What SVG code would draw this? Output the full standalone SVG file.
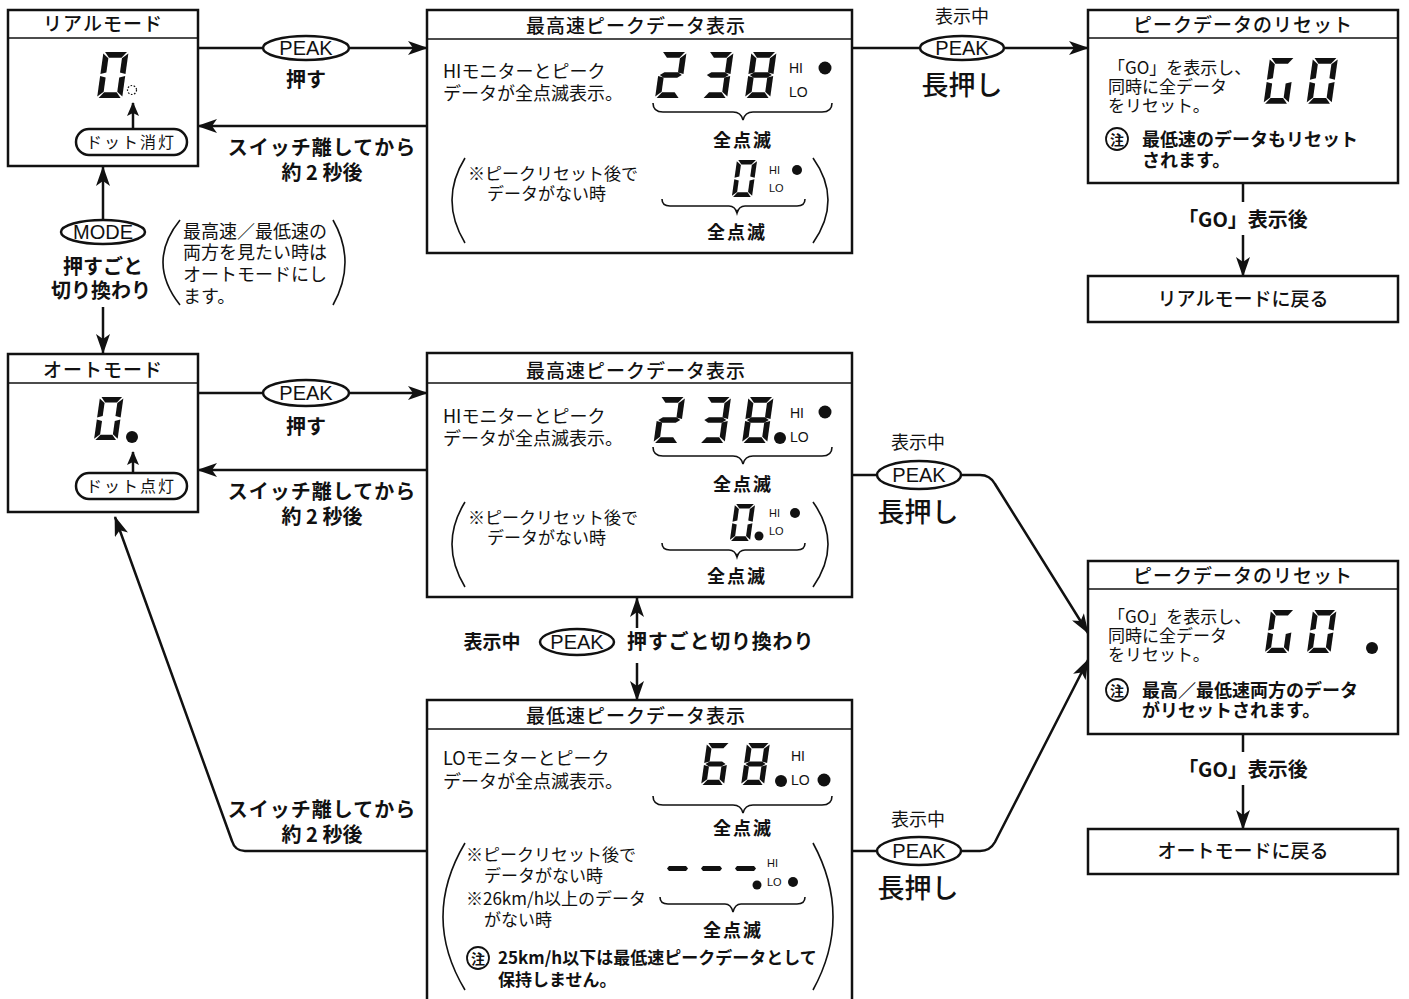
<svg xmlns="http://www.w3.org/2000/svg" xmlns:xlink="http://www.w3.org/1999/xlink" width="1409" height="999" viewBox="0 0 1409 999">
<style>
text{font-family:"Noto Sans CJK JP","Liberation Sans",sans-serif;fill:#111}
.t{font-size:19px;font-weight:500;text-anchor:middle;letter-spacing:1px}
.b{font-size:18px}
.s{font-size:17px}
.bold{font-weight:700}
.mid{text-anchor:middle}
.pk{font-family:"Liberation Sans",Arial,sans-serif;font-size:20px;text-anchor:middle}
.hi{font-family:"Liberation Sans",Arial,sans-serif;font-size:14px}
.hs{font-family:"Liberation Sans",Arial,sans-serif;font-size:11px}
.box{fill:#fff;stroke:#111;stroke-width:2.5}
.hd{stroke:#111;stroke-width:1.5}
.ln{fill:none;stroke:#111;stroke-width:2.5}
.th{fill:none;stroke:#111;stroke-width:1.6}
.ell{fill:#fff;stroke:#111;stroke-width:2.5}
.seg{fill:#111}
.dot{fill:#111}
</style>
<defs>
<marker id="ar" markerUnits="userSpaceOnUse" markerWidth="20" markerHeight="14" refX="19" refY="7" orient="auto">
<path d="M0,0 L20,7 L0,14 L5,7 Z" fill="#111"/>
</marker>
<marker id="as" markerUnits="userSpaceOnUse" markerWidth="14" markerHeight="12" refX="13" refY="6" orient="auto">
<path d="M0,0 L14,6 L0,12 L3,6 Z" fill="#111"/>
</marker>
<polygon id="sa" class="seg" points="1.5,0 22.5,0 18,5.5 6,5.5"/>
<polygon id="sb" class="seg" points="24,1.5 24,21 18.5,19.5 18.5,6"/>
<polygon id="sc" class="seg" points="24,23 24,42.5 18.5,38 18.5,24.5"/>
<polygon id="sd" class="seg" points="6,38.5 18,38.5 22.5,44 1.5,44"/>
<polygon id="se" class="seg" points="0,23 5.5,24.5 5.5,38 0,42.5"/>
<polygon id="sf" class="seg" points="0,1.5 5.5,6 5.5,19.5 0,21"/>
<polygon id="sg" class="seg" points="1.5,22 5.5,19.3 18.5,19.3 22.5,22 18.5,24.7 5.5,24.7"/>
<g id="d0"><use xlink:href="#sa"/><use xlink:href="#sb"/><use xlink:href="#sc"/><use xlink:href="#sd"/><use xlink:href="#se"/><use xlink:href="#sf"/></g>
<g id="d2"><use xlink:href="#sa"/><use xlink:href="#sb"/><use xlink:href="#sg"/><use xlink:href="#se"/><use xlink:href="#sd"/></g>
<g id="d3"><use xlink:href="#sa"/><use xlink:href="#sb"/><use xlink:href="#sg"/><use xlink:href="#sc"/><use xlink:href="#sd"/></g>
<g id="d8"><use xlink:href="#d0"/><use xlink:href="#sg"/></g>
<g id="d6"><use xlink:href="#sa"/><use xlink:href="#sf"/><use xlink:href="#sg"/><use xlink:href="#se"/><use xlink:href="#sd"/><use xlink:href="#sc"/></g>
<g id="dG"><use xlink:href="#sa"/><use xlink:href="#sf"/><use xlink:href="#se"/><use xlink:href="#sd"/><use xlink:href="#sc"/></g>
<polygon id="dash" class="seg" points="2,0 19,0 21,2.5 19,5 2,5 0,2.5"/>
</defs>
<rect width="1409" height="999" fill="#fff"/>

<g id="connectors">
<path class="ln" d="M198,48 H427" marker-end="url(#ar)"/>
<path class="ln" d="M427,126 H198" marker-end="url(#ar)"/>
<path class="ln" d="M852,48 H1088" marker-end="url(#ar)"/>
<path class="ln" d="M103,221 V167" marker-end="url(#ar)"/>
<path class="ln" d="M103,307 V353" marker-end="url(#ar)"/>
<path class="ln" d="M198,393 H427" marker-end="url(#ar)"/>
<path class="ln" d="M427,470 H198" marker-end="url(#ar)"/>
<path class="ln" d="M852,475 H980 Q990,475 995,484 L1088,633" marker-end="url(#ar)"/>
<path class="ln" d="M852,851 H980 Q990,851 995,842 L1088,660" marker-end="url(#ar)"/>
<path class="ln" d="M427,851 H245 Q235,851 232,841 L115,517" marker-end="url(#ar)"/>
<path class="ln" d="M637,628 V598" marker-end="url(#ar)"/>
<path class="ln" d="M637,663 V700" marker-end="url(#ar)"/>
<path class="ln" d="M1243,183 V202"/>
<path class="ln" d="M1243,235 V276" marker-end="url(#ar)"/>
<path class="ln" d="M1243,734 V752"/>
<path class="ln" d="M1243,785 V829" marker-end="url(#ar)"/>
<ellipse class="ell" cx="306" cy="48" rx="43" ry="12"/>
<text class="pk" x="306" y="55">PEAK</text>
<text class="mid bold" x="306" y="87" font-size="20">押す</text>
<text class="mid bold" font-size="20"><tspan x="322" y="155" letter-spacing="1">スイッチ離してから</tspan><tspan x="322" y="180">約 2 秒後</tspan></text>
<text class="mid" x="962" y="23" font-size="18">表示中</text>
<ellipse class="ell" cx="962" cy="48" rx="42" ry="12"/>
<text class="pk" x="962" y="55">PEAK</text>
<text class="mid" x="962" y="95" font-size="27" font-weight="500">長押し</text>
<ellipse class="ell" cx="103" cy="232" rx="42" ry="12"/>
<text class="pk" x="103" y="239">MODE</text>
<text class="mid bold" font-size="20"><tspan x="103" y="274">押すごと</tspan><tspan x="101" y="298">切り換わり</tspan></text>
<path class="th" d="M180,220 Q146,262 180,305"/>
<path class="th" d="M333,220 Q357,262 333,305"/>
<text class="b"><tspan x="183" y="238">最高速／最低速の</tspan><tspan x="183" y="259">両方を見たい時は</tspan><tspan x="183" y="281">オートモードにし</tspan><tspan x="183" y="303">ます。</tspan></text>
<ellipse class="ell" cx="306" cy="393" rx="43" ry="13"/>
<text class="pk" x="306" y="400">PEAK</text>
<text class="mid bold" x="306" y="434" font-size="20">押す</text>
<text class="mid bold" font-size="20"><tspan x="322" y="499" letter-spacing="1">スイッチ離してから</tspan><tspan x="322" y="524">約 2 秒後</tspan></text>
<text class="mid" x="918" y="449" font-size="18">表示中</text>
<ellipse class="ell" cx="919" cy="475" rx="42" ry="14"/>
<text class="pk" x="919" y="482">PEAK</text>
<text class="mid" x="918" y="522" font-size="27" font-weight="500">長押し</text>
<text class="mid" x="918" y="826" font-size="18">表示中</text>
<ellipse class="ell" cx="919" cy="851" rx="42" ry="14"/>
<text class="pk" x="919" y="858">PEAK</text>
<text class="mid" x="918" y="898" font-size="27" font-weight="500">長押し</text>
<text class="mid bold" font-size="20"><tspan x="322" y="817" letter-spacing="1">スイッチ離してから</tspan><tspan x="322" y="842">約 2 秒後</tspan></text>
<text class="mid bold" x="492" y="649" font-size="19">表示中</text>
<ellipse class="ell" cx="577" cy="642" rx="37" ry="13"/>
<text class="pk" x="577" y="649">PEAK</text>
<text class="bold" x="627" y="649" font-size="20" letter-spacing="0.8">押すごと切り換わり</text>
<text class="mid bold" x="1243" y="227" font-size="20">「GO」表示後</text>
<text class="mid bold" x="1243" y="777" font-size="20">「GO」表示後</text>
</g>

<g id="real-mode">
<rect class="box" x="8" y="10" width="190" height="156"/>
<line class="hd" x1="8" y1="38" x2="198" y2="38"/>
<text class="t" x="103" y="31" font-size="18" letter-spacing="2">リアルモード</text>
<use xlink:href="#d0" transform="translate(103.5,52) scale(1.045) skewX(-8)"/>
<circle cx="132" cy="90" r="4.5" fill="none" stroke="#111" stroke-width="1.2" stroke-dasharray="1.6 1.6"/>
<path class="ln" d="M133,129 V103" marker-end="url(#as)"/>
<rect x="76" y="129" width="111" height="26" rx="13" fill="#fff" stroke="#111" stroke-width="2.5"/>
<text class="mid" x="131" y="148" font-size="16" letter-spacing="2">ドット消灯</text>
</g>

<g id="peak-high-1">
<rect class="box" x="427" y="10" width="425" height="243"/>
<line class="hd" x1="427" y1="39" x2="852" y2="39"/>
<text class="t" x="636" y="33" font-size="20">最高速ピークデータ表示</text>
<text class="b"><tspan x="443" y="78">HIモニターとピーク</tspan><tspan x="443" y="100">データが全点滅表示。</tspan></text>
<use xlink:href="#d2" transform="translate(661.5,52) scale(1.045) skewX(-8)"/>
<use xlink:href="#d3" transform="translate(708.5,52) scale(1.045) skewX(-8)"/>
<use xlink:href="#d8" transform="translate(751.5,52) scale(1.045) skewX(-8)"/>
<text class="hi"><tspan x="789" y="73">HI</tspan><tspan x="789" y="97">LO</tspan></text>
<circle class="dot" cx="825" cy="68" r="6.5"/>
<path class="th" d="M653,103 Q653,112 663,112 H733 Q741,112 743,120 Q745,112 753,112 H822 Q832,112 832,103"/>
<text class="mid bold" x="743" y="147" font-size="18" letter-spacing="2">全点滅</text>
<path class="th" d="M465,158 Q439,200 465,243"/>
<path class="th" d="M813,158 Q843,200 813,243"/>
<text class="s"><tspan x="468" y="180">※ピークリセット後で</tspan><tspan x="487" y="200">データがない時</tspan></text>
<use xlink:href="#d0" transform="translate(737,160) scale(0.84) skewX(-8)"/>
<text class="hs"><tspan x="769" y="174">HI</tspan><tspan x="769" y="192">LO</tspan></text>
<circle class="dot" cx="797" cy="170" r="5"/>
<path class="th" d="M662,199 Q662,206 670,206 H729 Q735,206 737,213 Q739,206 745,206 H797 Q805,206 805,199"/>
<text class="mid bold" x="737" y="239" font-size="18" letter-spacing="2">全点滅</text>
</g>

<g id="reset-1">
<rect class="box" x="1088" y="10" width="310" height="173"/>
<line class="hd" x1="1088" y1="38" x2="1398" y2="38"/>
<text class="t" x="1243" y="32">ピークデータのリセット</text>
<text class="s"><tspan x="1108" y="74">「GO」を表示し、</tspan><tspan x="1108" y="93">同時に全データ</tspan><tspan x="1108" y="112">をリセット。</tspan></text>
<use xlink:href="#dG" transform="translate(1270,58) scale(1.04) skewX(-8)"/>
<use xlink:href="#d0" transform="translate(1313,58) scale(1.04) skewX(-8)"/>
<circle cx="1117" cy="139" r="11" fill="none" stroke="#111" stroke-width="1.8"/>
<text class="mid bold" x="1117" y="144.5" font-size="14">注</text>
<text class="b bold"><tspan x="1142" y="146">最低速のデータもリセット</tspan><tspan x="1142" y="167">されます。</tspan></text>
</g>

<g id="return-real">
<rect class="box" x="1088" y="276" width="310" height="46"/>
<text class="mid" x="1243" y="306" font-size="19" font-weight="500">リアルモードに戻る</text>
</g>

<g id="auto-mode">
<rect class="box" x="8" y="354" width="190" height="158"/>
<line class="hd" x1="8" y1="383" x2="198" y2="383"/>
<text class="t" x="103" y="377" font-size="18" letter-spacing="2">オートモード</text>
<use xlink:href="#d0" transform="translate(100,397) scale(0.98) skewX(-8)"/>
<circle class="dot" cx="132" cy="437" r="6"/>
<path class="ln" d="M133,473 V452" marker-end="url(#as)"/>
<rect x="76" y="473" width="111" height="26" rx="13" fill="#fff" stroke="#111" stroke-width="2.5"/>
<text class="mid" x="131" y="492" font-size="16" letter-spacing="2">ドット点灯</text>
</g>

<g id="peak-high-2">
<rect class="box" x="427" y="353" width="425" height="244"/>
<line class="hd" x1="427" y1="383" x2="852" y2="383"/>
<text class="t" x="636" y="378" font-size="20">最高速ピークデータ表示</text>
<text class="b"><tspan x="443" y="423">HIモニターとピーク</tspan><tspan x="443" y="445">データが全点滅表示。</tspan></text>
<use xlink:href="#d2" transform="translate(660,397) scale(1.045) skewX(-8)"/>
<use xlink:href="#d3" transform="translate(706,397) scale(1.045) skewX(-8)"/>
<use xlink:href="#d8" transform="translate(748.5,397) scale(1.045) skewX(-8)"/>
<circle class="dot" cx="780" cy="438" r="6"/>
<text class="hi"><tspan x="790" y="418">HI</tspan><tspan x="790" y="442">LO</tspan></text>
<circle class="dot" cx="825" cy="412" r="6.5"/>
<path class="th" d="M653,447 Q653,456 663,456 H733 Q741,456 743,464 Q745,456 753,456 H822 Q832,456 832,447"/>
<text class="mid bold" x="743" y="491" font-size="18" letter-spacing="2">全点滅</text>
<path class="th" d="M465,502 Q439,544 465,587"/>
<path class="th" d="M813,502 Q843,544 813,587"/>
<text class="s"><tspan x="468" y="524">※ピークリセット後で</tspan><tspan x="487" y="544">データがない時</tspan></text>
<use xlink:href="#d0" transform="translate(735,504) scale(0.84) skewX(-8)"/>
<circle class="dot" cx="759" cy="536" r="4.5"/>
<text class="hs"><tspan x="769" y="517">HI</tspan><tspan x="769" y="535">LO</tspan></text>
<circle class="dot" cx="795" cy="513" r="5"/>
<path class="th" d="M662,543 Q662,550 670,550 H729 Q735,550 737,557 Q739,550 745,550 H797 Q805,550 805,543"/>
<text class="mid bold" x="737" y="583" font-size="18" letter-spacing="2">全点滅</text>
</g>

<g id="peak-low">
<rect class="box" x="427" y="700" width="425" height="320"/>
<line class="hd" x1="427" y1="729" x2="852" y2="729"/>
<text class="t" x="636" y="723" font-size="20">最低速ピークデータ表示</text>
<text class="b"><tspan x="443" y="765">LOモニターとピーク</tspan><tspan x="443" y="788">データが全点滅表示。</tspan></text>
<use xlink:href="#d6" transform="translate(707,743) scale(0.955) skewX(-8)"/>
<use xlink:href="#d8" transform="translate(747,743) scale(0.955) skewX(-8)"/>
<circle class="dot" cx="781" cy="781" r="6"/>
<text class="hi"><tspan x="791" y="761">HI</tspan><tspan x="791" y="785">LO</tspan></text>
<circle class="dot" cx="824" cy="780" r="6.5"/>
<path class="th" d="M653,796 Q653,805 663,805 H733 Q741,805 743,813 Q745,805 753,805 H822 Q832,805 832,796"/>
<text class="mid bold" x="743" y="835" font-size="18" letter-spacing="2">全点滅</text>
<path class="th" d="M465,843 Q421,917 465,990"/>
<path class="th" d="M813,843 Q853,917 813,990"/>
<text class="s"><tspan x="466" y="861">※ピークリセット後で</tspan><tspan x="484" y="882">データがない時</tspan><tspan x="466" y="905">※26km/h以上のデータ</tspan><tspan x="484" y="926">がない時</tspan></text>
<use xlink:href="#dash" transform="translate(667,866)"/>
<use xlink:href="#dash" transform="translate(701,866)"/>
<use xlink:href="#dash" transform="translate(735,866)"/>
<circle class="dot" cx="757" cy="885" r="4.5"/>
<text class="hs"><tspan x="767" y="867">HI</tspan><tspan x="767" y="886">LO</tspan></text>
<circle class="dot" cx="793" cy="882" r="5"/>
<path class="th" d="M660,897 Q660,904 668,904 H725 Q731,904 733,912 Q735,904 741,904 H797 Q805,904 805,897"/>
<text class="mid bold" x="733" y="937" font-size="18" letter-spacing="2">全点滅</text>
<circle cx="478" cy="958" r="11" fill="none" stroke="#111" stroke-width="1.8"/>
<text class="mid bold" x="478" y="963.5" font-size="14">注</text>
<text class="s bold"><tspan x="498" y="964">25km/h以下は最低速ピークデータとして</tspan><tspan x="498" y="986">保持しません。</tspan></text>
</g>

<g id="reset-2">
<rect class="box" x="1088" y="561" width="310" height="173"/>
<line class="hd" x1="1088" y1="589" x2="1398" y2="589"/>
<text class="t" x="1243" y="583">ピークデータのリセット</text>
<text class="s"><tspan x="1108" y="623">「GO」を表示し、</tspan><tspan x="1108" y="642">同時に全データ</tspan><tspan x="1108" y="661">をリセット。</tspan></text>
<use xlink:href="#dG" transform="translate(1271,610) scale(0.98) skewX(-8)"/>
<use xlink:href="#d0" transform="translate(1313,610) scale(0.98) skewX(-8)"/>
<circle class="dot" cx="1372" cy="648" r="6"/>
<circle cx="1117" cy="690" r="11" fill="none" stroke="#111" stroke-width="1.8"/>
<text class="mid bold" x="1117" y="695.5" font-size="14">注</text>
<text class="b bold"><tspan x="1142" y="697">最高／最低速両方のデータ</tspan><tspan x="1142" y="717">がリセットされます。</tspan></text>
</g>

<g id="return-auto">
<rect class="box" x="1088" y="829" width="310" height="45"/>
<text class="mid" x="1243" y="858" font-size="19" font-weight="500">オートモードに戻る</text>
</g>
</svg>
